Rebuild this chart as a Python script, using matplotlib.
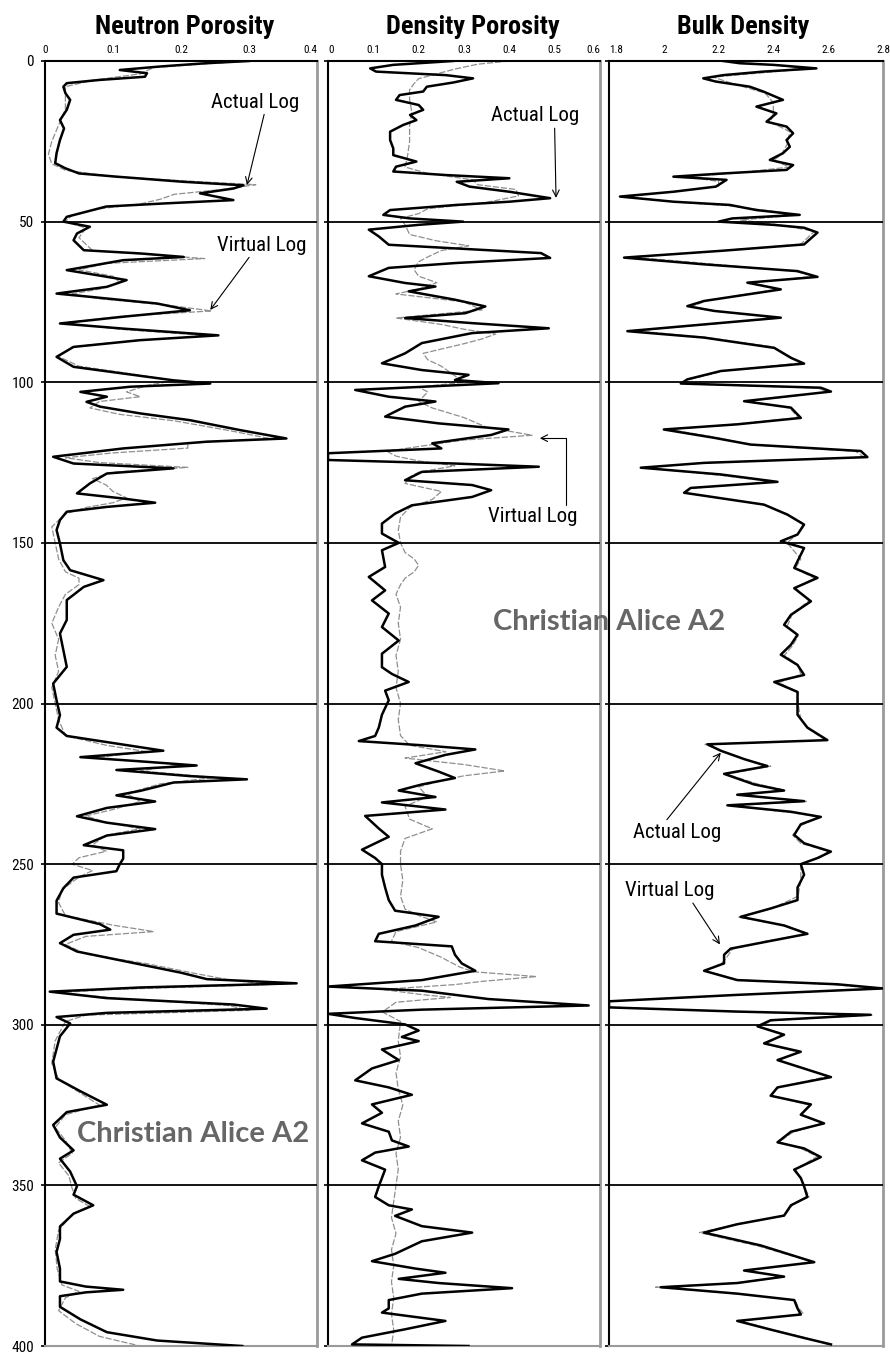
"""Actual vs virtual well logs, Christian Alice A2: neutron porosity, density porosity, bulk density."""
import matplotlib

matplotlib.use("Agg")
import matplotlib.pyplot as plt

# ---- data (depth in ft-like units, 0 at top) ----
np_act_depth = [0, 0.7, 1.7, 2.8, 3.8, 4.9, 5.9, 6.9, 8, 10, 12.1, 15.2, 18.4, 21, 24.6, 28.7, 31.8, 33.4, 35, 36,
                37.6, 38.7, 39.7, 41.2, 43.3, 44.3, 45.3, 46.9, 48.5, 50, 51.6, 53.7, 55.8, 58.9, 59.9, 61, 62, 65.1,
                67.2, 68.2, 70.3, 72.4, 73.4, 75.5, 77.6, 79.6, 81.7, 83.3, 85.4, 86.9, 89, 92.1, 95.2, 97.3, 99.4,
                100.4, 101.4, 103, 104.5, 106.1, 107.6, 109.7, 111.8, 114.9, 117.5, 118.5, 120.6, 123.2, 125.3, 126.8,
                128.4, 131.5, 134.6, 136.2, 137.5, 138.8, 140.3, 142.9, 146, 150.2, 155.4, 158.5, 161.6, 163.7, 167.8,
                174, 178.2, 183.4, 188.6, 193.8, 199, 203.6, 207.5, 210.1, 212.8, 214.7, 216.7, 218, 219.3, 220.7,
                222.6, 223.6, 224.6, 227.2, 228.6, 230.5, 232.5, 235.1, 237.1, 239.1, 241.1, 244.1, 245.7, 248.3, 250,
                252.2, 254.2, 257.5, 261.4, 265.4, 268.7, 270.4, 272, 274.6, 277.2, 281.2, 283.8, 285.8, 287.1, 288.4,
                289.7, 291.7, 293.7, 295, 296.3, 297.6, 299.6, 303.6, 311.5, 316.7, 320.7, 324.9, 327.2, 331.2, 335.1,
                339.1, 341.7, 345.7, 350.3, 352.9, 356.2, 358.8, 362.8, 366.7, 370.7, 375.9, 379.9, 381.5, 382.5,
                383.3, 384.5, 387.8, 391.7, 395.7, 398.3, 400]
np_act = [0.30, 0.236, 0.17, 0.11, 0.15, 0.147, 0.08, 0.032, 0.027, 0.03, 0.037, 0.032, 0.022, 0.028, 0.022, 0.017,
          0.015, 0.03, 0.05, 0.105, 0.203, 0.292, 0.277, 0.228, 0.277, 0.179, 0.09, 0.061, 0.032, 0.027, 0.066,
          0.047, 0.042, 0.057, 0.14, 0.204, 0.115, 0.032, 0.091, 0.12, 0.091, 0.017, 0.066, 0.165, 0.213, 0.115,
          0.022, 0.115, 0.255, 0.14, 0.042, 0.017, 0.042, 0.115, 0.189, 0.243, 0.125, 0.052, 0.091, 0.061, 0.081,
          0.14, 0.213, 0.287, 0.355, 0.238, 0.115, 0.012, 0.042, 0.189, 0.091, 0.066, 0.047, 0.115, 0.162, 0.091,
          0.032, 0.022, 0.017, 0.022, 0.027, 0.037, 0.086, 0.057, 0.032, 0.032, 0.022, 0.027, 0.032, 0.012, 0.017,
          0.022, 0.017, 0.032, 0.115, 0.174, 0.052, 0.14, 0.223, 0.105, 0.213, 0.297, 0.189, 0.14, 0.105, 0.162,
          0.091, 0.047, 0.091, 0.162, 0.091, 0.057, 0.115, 0.115, 0.11, 0.105, 0.042, 0.027, 0.017, 0.017, 0.081,
          0.096, 0.042, 0.022, 0.047, 0.14, 0.2, 0.238, 0.37, 0.14, 0.007, 0.09, 0.277, 0.326, 0.091, 0.017, 0.037,
          0.022, 0.012, 0.017, 0.052, 0.091, 0.032, 0.012, 0.022, 0.042, 0.022, 0.037, 0.047, 0.042, 0.071, 0.042,
          0.022, 0.022, 0.017, 0.022, 0.022, 0.06, 0.115, 0.06, 0.022, 0.022, 0.052, 0.091, 0.165, 0.29]

np_vir_depth = [0, 2, 4, 6, 8, 15, 20, 25, 29, 32, 34, 36, 37.5, 38.5, 40, 41.5, 43, 44.5, 46, 48, 50, 52, 55, 59,
                60.5, 61.5, 63, 65, 67, 69, 71, 72.5, 74, 76, 77.8, 79.5, 81.5, 83.5, 85.5, 87, 89, 92, 95, 97.5, 99.5,
                101, 103, 104.5, 106, 108, 110, 112, 115, 117.5, 119, 120.5, 122, 123.5, 125, 126.5, 128, 130, 132,
                134, 136, 137.5, 139, 141, 145, 150, 155, 159, 161, 163, 166, 170, 175, 180, 185, 190, 195, 200, 205,
                210, 213, 215, 217, 219, 221, 223, 225, 228, 230.5, 233, 235, 237, 239, 241, 244, 246, 248, 250, 252,
                254, 258, 262, 266, 269, 271, 272.5, 275, 278, 281, 284, 286, 287.5, 289, 290, 292, 294, 295.5, 297,
                299, 305, 312, 317, 321, 325, 328, 332, 336, 340, 343, 347, 351, 354, 356.5, 359, 364, 370, 376, 381,
                383, 385, 389, 393, 397, 400]
np_vir = [0.30, 0.16, 0.14, 0.07, 0.03, 0.03, 0.02, 0.01, 0.005, 0.01, 0.03, 0.1, 0.22, 0.31, 0.26, 0.19, 0.17,
          0.14, 0.08, 0.04, 0.03, 0.06, 0.05, 0.07, 0.17, 0.235, 0.09, 0.05, 0.1, 0.11, 0.08, 0.04, 0.08, 0.18,
          0.245, 0.11, 0.03, 0.11, 0.24, 0.13, 0.04, 0.02, 0.05, 0.13, 0.19, 0.15, 0.12, 0.14, 0.08, 0.066, 0.11,
          0.19, 0.27, 0.33, 0.21, 0.21, 0.1, 0.03, 0.08, 0.21, 0.1, 0.07, 0.09, 0.1, 0.12, 0.1, 0.06, 0.03, 0.01,
          0.015, 0.02, 0.03, 0.05, 0.05, 0.03, 0.02, 0.01, 0.02, 0.015, 0.02, 0.01, 0.015, 0.02, 0.03, 0.09, 0.15,
          0.07, 0.2, 0.14, 0.25, 0.17, 0.12, 0.14, 0.1, 0.06, 0.09, 0.14, 0.09, 0.07, 0.09, 0.05, 0.04, 0.07, 0.05,
          0.025, 0.02, 0.03, 0.1, 0.16, 0.06, 0.03, 0.06, 0.15, 0.22, 0.27, 0.33, 0.1, 0.02, 0.12, 0.27, 0.3, 0.06,
          0.03, 0.015, 0.01, 0.02, 0.05, 0.08, 0.03, 0.015, 0.03, 0.04, 0.02, 0.035, 0.04, 0.045, 0.065, 0.04, 0.02,
          0.015, 0.018, 0.025, 0.05, 0.03, 0.02, 0.045, 0.08, 0.14]

dp_act_depth = [0, 1.2, 2.3, 3.3, 4.4, 5.4, 6.7, 8, 9.5, 10.6, 12.1, 13.7, 15.2, 16.8, 18.4, 19.9, 22, 24.6, 27.2,
                29.3, 31.3, 32.9, 34.4, 35.5, 36.5, 37.6, 39.1, 40.7, 42.7, 43.8, 44.8, 46.4, 47.9, 49, 50, 51, 52.5,
                54.6, 57.2, 59.8, 61.3, 62.9, 64.4, 67, 69.1, 70.2, 71.7, 74.3, 76.4, 78.5, 80, 81.6, 83.2, 84.7, 87.8,
                91, 94.1, 96.2, 97.7, 99.3, 100.3, 102.4, 104.5, 106, 107.6, 110.7, 112.8, 114.7, 116.4, 119, 120.6,
                122.1, 124.2, 125.3, 126.3, 127.9, 130.5, 132, 133.6, 135.7, 138.3, 140.9, 144, 147.1, 150, 152.3,
                157.5, 160.6, 164.8, 167.9, 172, 176.2, 180.4, 184.5, 188.7, 190.8, 193.3, 196, 199, 203.5, 207.5,
                210.1, 211.7, 213, 214.3, 216, 218.6, 221.2, 223.2, 225.2, 227.1, 229.1, 230.8, 233, 235, 238.9, 241.5,
                245.5, 248.1, 250, 253.3, 257.3, 261.2, 264.5, 266.4, 269.1, 271.7, 274, 275.6, 278.2, 280.9, 283.2,
                286.1, 288.1, 289.4, 292, 294, 295.3, 296.6, 297.9, 299.9, 301.8, 303.8, 305.1, 307.7, 311, 313.6,
                317.3, 319.5, 321.8, 324.8, 327.4, 330.7, 333.3, 336, 337.9, 339.8, 342.2, 345.1, 347.7, 350.3, 353.6,
                356.2, 357.5, 359.5, 362.7, 364.7, 367.4, 371.3, 373.6, 375.9, 377.2, 379.1, 380.4, 382, 383.7, 385.7,
                388.3, 389.6, 392.2, 394.8, 397.4, 399.5, 400]
dp_act = [0.276, 0.144, 0.093, 0.106, 0.26, 0.32, 0.276, 0.218, 0.21, 0.158, 0.15, 0.20, 0.21, 0.181, 0.195, 0.166,
          0.137, 0.137, 0.144, 0.144, 0.195, 0.15, 0.144, 0.26, 0.40, 0.284, 0.312, 0.40, 0.49, 0.40, 0.284, 0.137,
          0.122, 0.181, 0.298, 0.2, 0.09, 0.112, 0.134, 0.47, 0.49, 0.28, 0.134, 0.09, 0.17, 0.237, 0.178, 0.28,
          0.347, 0.303, 0.17, 0.318, 0.487, 0.318, 0.207, 0.17, 0.119, 0.207, 0.31, 0.28, 0.376, 0.06, 0.134, 0.237,
          0.17, 0.126, 0.244, 0.398, 0.36, 0.23, 0.25, 0.0, 0.0, 0.28, 0.465, 0.207, 0.17, 0.318, 0.36, 0.318, 0.185,
          0.148, 0.119, 0.119, 0.156, 0.119, 0.126, 0.09, 0.126, 0.097, 0.134, 0.119, 0.156, 0.119, 0.119, 0.141,
          0.178, 0.126, 0.134, 0.119, 0.112, 0.104, 0.068, 0.207, 0.325, 0.259, 0.193, 0.244, 0.28, 0.207, 0.156,
          0.237, 0.119, 0.259, 0.082, 0.112, 0.134, 0.075, 0.104, 0.119, 0.119, 0.126, 0.134, 0.148, 0.244, 0.193,
          0.112, 0.104, 0.273, 0.28, 0.295, 0.325, 0.207, 0.0, 0.207, 0.354, 0.575, 0.207, 0.0, 0.06, 0.17, 0.2,
          0.163, 0.2, 0.119, 0.156, 0.097, 0.06, 0.134, 0.185, 0.097, 0.119, 0.075, 0.134, 0.141, 0.178, 0.104,
          0.075, 0.126, 0.119, 0.112, 0.104, 0.134, 0.185, 0.148, 0.207, 0.318, 0.207, 0.148, 0.097, 0.193, 0.259,
          0.156, 0.244, 0.406, 0.207, 0.134, 0.134, 0.119, 0.259, 0.17, 0.075, 0.053, 0.31]

dp_vir_depth = [0, 1, 2.5, 4, 5.5, 7, 9, 12, 16, 20, 25, 30, 33, 35, 37, 38.5, 40, 42, 44, 46, 47.5, 49, 51, 54, 56,
                57.5, 59, 61, 62.5, 65, 67, 69, 71, 72.5, 75, 77.5, 80, 82, 83.5, 85, 86.5, 88, 91, 93, 95, 98, 100,
                101.5, 103, 106, 108, 111, 114, 116.5, 118, 120, 121.5, 123, 124.5, 126, 128, 129.5, 131.5, 134, 136.5,
                139, 142, 146, 150, 153, 155, 157, 159, 161, 163, 166, 170, 175, 180, 185, 190, 195, 200, 205, 210,
                213, 215, 217, 219, 221, 222.5, 224, 226, 229, 232, 236, 239, 242, 246, 250, 255, 260, 264, 266, 268,
                271, 274, 276, 279, 282, 283.5, 285, 286.5, 287.5, 289, 290.5, 291.5, 293, 296, 299, 305, 310, 315,
                320, 325, 330, 335, 340, 345, 350, 355, 360, 365, 370, 375, 380, 385, 390, 395, 400]
dp_vir = [0.40, 0.33, 0.28, 0.24, 0.2, 0.19, 0.18, 0.18, 0.185, 0.18, 0.18, 0.175, 0.17, 0.22, 0.32, 0.33, 0.415,
          0.42, 0.35, 0.22, 0.2, 0.16, 0.17, 0.18, 0.24, 0.31, 0.25, 0.22, 0.2, 0.19, 0.2, 0.24, 0.2, 0.15, 0.3,
          0.34, 0.15, 0.25, 0.3, 0.37, 0.34, 0.3, 0.21, 0.22, 0.25, 0.28, 0.3, 0.2, 0.22, 0.2, 0.23, 0.3, 0.35,
          0.45, 0.3, 0.2, 0.13, 0.15, 0.2, 0.28, 0.2, 0.18, 0.17, 0.25, 0.23, 0.18, 0.16, 0.155, 0.16, 0.17, 0.19,
          0.2, 0.19, 0.17, 0.16, 0.15, 0.16, 0.155, 0.16, 0.15, 0.155, 0.15, 0.16, 0.155, 0.16, 0.18, 0.26, 0.17,
          0.3, 0.39, 0.3, 0.25, 0.2, 0.22, 0.17, 0.18, 0.23, 0.17, 0.16, 0.16, 0.165, 0.16, 0.17, 0.2, 0.24, 0.15,
          0.14, 0.2, 0.25, 0.29, 0.32, 0.46, 0.34, 0.28, 0.12, 0.2, 0.27, 0.15, 0.12, 0.16, 0.155, 0.16, 0.15, 0.155,
          0.165, 0.155, 0.16, 0.15, 0.155, 0.15, 0.145, 0.14, 0.15, 0.14, 0.145, 0.14, 0.145, 0.14, 0.145, 0.14]

bd_act_depth = [0, 0.7, 1.2, 2.3, 3.3, 4.4, 5.4, 6.4, 8, 9.5, 12.1, 14.2, 16.3, 18.9, 20.4, 22.5, 24.6, 26.7, 28.7,
                30.8, 32.4, 33.9, 35, 36, 37, 39.1, 40.7, 42.2, 43.8, 44.8, 46.4, 47.9, 49, 50, 51, 51.9, 53.4, 57.1,
                59.1, 61.2, 63.3, 65.4, 67.2, 69, 71.1, 74.7, 76.3, 77.8, 79.9, 82, 84.1, 86.1, 89.3, 92.4, 94.2, 96.5,
                99.1, 100.4, 101.7, 102.9, 105.9, 107.9, 111.1, 113.1, 114.7, 117.3, 119.4, 121.4, 123.3, 125.1, 126.6,
                128.7, 131, 132.9, 134.4, 138.1, 141.2, 144.3, 147.4, 149.5, 151.6, 155.7, 157.8, 160.9, 164.1, 168.2,
                172.4, 175.5, 178.6, 181.7, 184.8, 188, 191.1, 193.3, 196.4, 199.3, 203.5, 207.5, 211.4, 212.7, 214.7,
                217.3, 219.5, 221.9, 225.2, 227.1, 228.4, 230.4, 231.7, 233.7, 235.3, 237.6, 240.9, 243.5, 246.1,
                248.1, 250, 253.3, 257.3, 261.2, 263.8, 266.4, 269.1, 271.7, 274.3, 276.3, 278.2, 280.9, 283.2, 286.1,
                287.4, 288.7, 290.7, 292.7, 294.6, 295.9, 296.9, 298.6, 300.5, 303.1, 305.8, 308.4, 311, 316.3, 319.5,
                322.1, 324.8, 328, 330.7, 333.3, 336.6, 338.5, 341.2, 345.1, 347.7, 350.3, 353.6, 356.2, 359.4, 362.1,
                364.7, 368.7, 373.9, 376.5, 378.4, 380.4, 381.7, 383.7, 385.7, 388.3, 390.2, 392.2, 394.9, 397.5,
                399.5]
bd_act = [2.217, 2.278, 2.40, 2.557, 2.363, 2.217, 2.144, 2.19, 2.314, 2.363, 2.435, 2.338, 2.411, 2.375, 2.448,
          2.472, 2.448, 2.46, 2.435, 2.387, 2.472, 2.448, 2.217, 2.035, 2.229, 2.19, 2.035, 1.84, 2.035, 2.241,
          2.338, 2.496, 2.25, 2.2, 2.4, 2.512, 2.561, 2.512, 2.208, 1.855, 2.147, 2.488, 2.561, 2.305, 2.427, 2.147,
          2.086, 2.184, 2.427, 2.147, 1.867, 2.147, 2.403, 2.464, 2.512, 2.208, 2.086, 2.062, 2.573, 2.61, 2.293,
          2.464, 2.5, 2.268, 2.0, 2.184, 2.317, 2.719, 2.743, 2.147, 1.916, 2.208, 2.415, 2.098, 2.074, 2.366, 2.451,
          2.512, 2.488, 2.427, 2.512, 2.488, 2.476, 2.561, 2.476, 2.537, 2.464, 2.439, 2.488, 2.464, 2.427, 2.488,
          2.512, 2.403, 2.488, 2.488, 2.488, 2.524, 2.597, 2.159, 2.208, 2.293, 2.378, 2.22, 2.33, 2.439, 2.268,
          2.512, 2.232, 2.464, 2.573, 2.5, 2.476, 2.512, 2.61, 2.561, 2.5, 2.512, 2.488, 2.488, 2.39, 2.281, 2.439,
          2.524, 2.366, 2.244, 2.22, 2.22, 2.147, 2.268, 2.633, 2.8, 2.268, 1.8, 1.8, 2.268, 2.755, 2.39, 2.342,
          2.439, 2.366, 2.5, 2.415, 2.61, 2.415, 2.39, 2.537, 2.5, 2.585, 2.464, 2.415, 2.512, 2.573, 2.476, 2.5,
          2.512, 2.524, 2.464, 2.439, 2.268, 2.147, 2.354, 2.549, 2.293, 2.439, 2.268, 1.989, 2.268, 2.476, 2.488,
          2.5, 2.268, 2.39, 2.512, 2.61]

bd_vir_depth = [0, 2, 3, 5, 7, 10, 13, 16, 19, 22, 26, 29, 31, 33, 35, 36, 37.5, 39, 41, 42.3, 44, 45, 47, 48, 49.5,
                51, 53, 57, 59, 61, 63, 65.5, 67, 69, 71, 74.5, 76.5, 78, 80, 82, 84, 86, 89, 92, 94, 96.5, 99, 100.5,
                101.8, 103, 106, 108, 111, 113, 114.7, 117, 119.5, 121.5, 123.3, 125, 126.6, 129, 131, 133, 134.5, 138,
                141, 144, 147, 150, 155, 158, 161, 164, 168, 172, 176, 179, 182, 185, 188, 191, 193.5, 196.5, 200, 205,
                208, 211.4, 212.7, 215, 217.5, 219.5, 222, 225, 227, 228.5, 230.5, 231.8, 234, 235.3, 238, 241, 243.5,
                246, 248, 250, 255, 260, 264, 266.5, 269, 271.7, 274, 276.5, 279, 281, 283.2, 286, 287.5, 288.8, 290.7,
                292.7, 294.5, 296, 297, 298.6, 300.5, 303, 306, 308.5, 311, 316, 319.5, 322, 325, 328, 330.7, 333.5,
                336.5, 338.5, 341, 345, 348, 350, 353.5, 356, 359.5, 362, 364.7, 369, 374, 376.5, 378.5, 380.4, 381.7,
                383.7, 385.7, 388, 390, 392.2, 395, 397.5, 400]
bd_vir = [2.22, 2.5, 2.45, 2.18, 2.25, 2.37, 2.4, 2.4, 2.39, 2.46, 2.45, 2.43, 2.4, 2.46, 2.25, 2.08, 2.2, 2.2, 2.0,
          1.86, 2.06, 2.23, 2.42, 2.48, 2.28, 2.42, 2.55, 2.5, 2.22, 1.88, 2.15, 2.48, 2.55, 2.32, 2.42, 2.16, 2.1,
          2.2, 2.42, 2.16, 1.9, 2.15, 2.4, 2.46, 2.5, 2.22, 2.1, 2.08, 2.56, 2.6, 2.3, 2.46, 2.49, 2.27, 2.02, 2.18,
          2.32, 2.7, 2.73, 2.16, 1.93, 2.21, 2.4, 2.1, 2.08, 2.36, 2.45, 2.51, 2.49, 2.45, 2.5, 2.48, 2.55, 2.48,
          2.53, 2.47, 2.45, 2.49, 2.47, 2.44, 2.49, 2.5, 2.42, 2.49, 2.49, 2.5, 2.53, 2.59, 2.15, 2.22, 2.3, 2.39,
          2.23, 2.34, 2.44, 2.28, 2.52, 2.24, 2.47, 2.57, 2.5, 2.47, 2.5, 2.6, 2.57, 2.5, 2.5, 2.49, 2.39, 2.27, 2.44,
          2.53, 2.37, 2.25, 2.23, 2.21, 2.15, 2.27, 2.62, 2.79, 2.27, 1.8, 1.8, 2.27, 2.76, 2.4, 2.35, 2.44, 2.37,
          2.49, 2.42, 2.6, 2.42, 2.39, 2.53, 2.5, 2.58, 2.47, 2.42, 2.5, 2.56, 2.48, 2.5, 2.51, 2.53, 2.47, 2.44,
          2.27, 2.13, 2.35, 2.55, 2.3, 2.44, 2.26, 1.97, 2.26, 2.48, 2.49, 2.51, 2.28, 2.4, 2.52, 2.62]

titles = ["Neutron Porosity", "Density Porosity", "Bulk Density"]
xlims = [(0, 0.4), (0, 0.6), (1.8, 2.8)]
xticks = [[0, 0.1, 0.2, 0.3, 0.4],
          [0, 0.1, 0.2, 0.3, 0.4, 0.5, 0.6],
          [1.8, 2.0, 2.2, 2.4, 2.6, 2.8]]
xticklabels = [["0", "0.1", "0.2", "0.3", "0.4"],
               ["0", "0.1", "0.2", "0.3", "0.4", "0.5", "0.6"],
               ["1.8", "2", "2.2", "2.4", "2.6", "2.8"]]
depth_ticks = [0, 50, 100, 150, 200, 250, 300, 350, 400]
well_name = "Christian Alice A2"

# condensed faces if present, plain sans otherwise
NARROW = ["Liberation Sans Narrow", "Roboto Condensed", "Archivo Narrow", "Liberation Sans", "DejaVu Sans"]
plt.rcParams["font.family"] = NARROW
WELL_FONT = ["Lato", "Open Sans", "DejaVu Sans"]

W, H = 890, 1352
fig = plt.figure(figsize=(W / 100, H / 100), dpi=100)

# panel boxes in pixels (left, right); shared top/bottom
panels_px = [(45, 317), (328, 600), (609, 883)]
top_px, bot_px = 61, 1346
title_x_px = [185, 473, 743]

curves = [(np_act_depth, np_act, np_vir_depth, np_vir),
          (dp_act_depth, dp_act, dp_vir_depth, dp_vir),
          (bd_act_depth, bd_act, bd_vir_depth, bd_vir)]

axes = []
for i, (l, r) in enumerate(panels_px):
    ax = fig.add_axes([l / W, 1 - bot_px / H, (r - l) / W, (bot_px - top_px) / H])
    axes.append(ax)
    ad, av, vd, vv = curves[i]
    ax.plot(vv, vd, color="#8f8f8f", lw=0.9, ls=(0, (5, 1.5)), zorder=2)
    ax.plot(av, ad, color="black", lw=1.8, zorder=3)
    for d in depth_ticks[1:-1]:
        ax.axhline(d, color="black", lw=1.3, zorder=4)
    ax.set_xlim(*xlims[i])
    ax.set_ylim(400, 0)
    ax.xaxis.tick_top()
    ax.set_xticks(xticks[i], xticklabels[i])
    ax.tick_params(axis="x", length=0, pad=4, labelsize=8)
    # edge labels lean inwards so neighbouring panels do not collide
    tl = ax.get_xticklabels()
    if i > 0:
        tl[0].set_ha("left")
    if i < 2:
        tl[-1].set_ha("right")
    ax.set_yticks(depth_ticks)
    ax.tick_params(axis="y", direction="out", length=3, width=1.2, pad=5, labelsize=11,
                   labelleft=(i == 0))
    ax.spines["left"].set_linewidth(1.5)
    ax.spines["top"].set_linewidth(1.5)
    ax.spines["right"].set_color("#9a9a9a")
    ax.spines["right"].set_linewidth(2.0)
    ax.spines["bottom"].set_color("#9a9a9a")
    ax.spines["bottom"].set_linewidth(1.5)
    fig.text(title_x_px[i] / W, 1 - 27 / H, titles[i], ha="center", va="center",
             fontsize=19, fontweight="bold")

ax1, ax2, ax3 = axes
arrow = dict(arrowstyle="->", color="black", lw=0.8, mutation_scale=12, shrinkA=0, shrinkB=0)
label_kw = dict(ha="center", va="center", fontsize=15)

ax1.annotate("Actual Log", xy=(0.297, 38.6), xytext=(0.309, 12.8),
             arrowprops=dict(arrow, relpos=(0.61, 0.0)), **label_kw)
ax1.annotate("Virtual Log", xy=(0.243, 77.5), xytext=(0.319, 57.3),
             arrowprops=dict(arrow, relpos=(0.38, 0.0)), **label_kw)
ax2.annotate("Actual Log", xy=(0.503, 42.6), xytext=(0.457, 17.1),
             arrowprops=dict(arrow, relpos=(0.72, 0.0)), **label_kw)
ax2.annotate("Virtual Log", xy=(0.467, 117.4), xytext=(0.452, 141.9),
             arrowprops=dict(arrow, relpos=(0.87, 1.0),
                             connectionstyle="angle,angleA=90,angleB=0,rad=0"), **label_kw)
ax3.annotate("Actual Log", xy=(2.208, 215.3), xytext=(2.048, 240.0),
             arrowprops=dict(arrow, relpos=(0.36, 1.0)), **label_kw)
ax3.annotate("Virtual Log", xy=(2.205, 275.0), xytext=(2.021, 258.3),
             arrowprops=dict(arrow, relpos=(0.74, 0.0)), **label_kw)

ax1.text(0.218, 334, well_name, ha="center", va="center", fontsize=21, fontweight="bold",
         color="#666666", family=WELL_FONT, zorder=5)
fig.text(609 / W, 1 - 622 / H, well_name, ha="center", va="center", fontsize=21,
         fontweight="bold", color="#666666", family=WELL_FONT, zorder=5)

fig.savefig("out.png", dpi=100)
